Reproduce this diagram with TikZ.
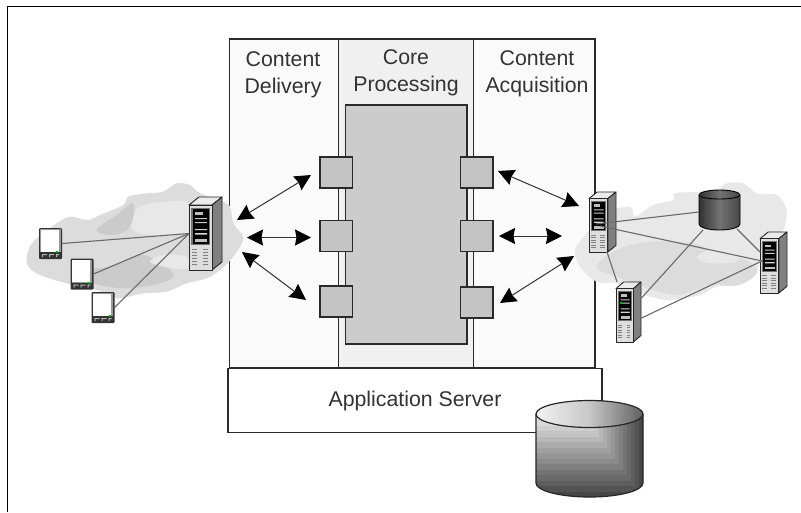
\documentclass[tikz,border=0pt]{standalone}
\usepackage{fontspec}
\setmainfont{Liberation Sans}
\usetikzlibrary{arrows.meta}
\definecolor{boxline}{HTML}{2A2A2A}
\definecolor{panelpale}{HTML}{FAFAFA}
\definecolor{panelcore}{HTML}{F0F0F0}
\definecolor{coregrey}{HTML}{CCCCCC}
\definecolor{portgrey}{HTML}{C4C4C4}
\definecolor{cloudA}{HTML}{DCDCDC}
\definecolor{cloudB}{HTML}{CBCBCB}
\definecolor{cloudC}{HTML}{E8E8E8}
\definecolor{wire}{HTML}{6A6A6A}
\tikzset{
  panelbox/.style={draw=boxline,line width=1.3pt,inner sep=0pt,outer sep=0pt,anchor=north west},
  portbox/.style={panelbox,fill=portgrey,minimum width=32.5pt,minimum height=31pt},
  devbox/.style={inner sep=0pt,outer sep=0pt,anchor=north west},
  caption/.style={font=\fontsize{21.3}{27}\selectfont,align=center,text=black!80,inner sep=0pt},
  dart/.style={draw=black!80,line width=1pt,{Stealth[length=16pt,width=16pt,inset=1.5pt,color=black]}-{Stealth[length=16pt,width=16pt,inset=1.5pt,color=black]}},
  link/.style={draw=wire,line width=1.1pt},
}
% #1 name, #2 left, #3 top, #4 width, #5 height
\newcommand{\devserver}[5]{%
  \node[devbox,minimum width=#4pt,minimum height=#5pt] (#1) at (#2,#3) {};
  \begin{scope}[shift={(#2,#3)},xscale=#4/33,yscale=#5/73]
    \filldraw[fill=black!8,draw=black!85,line width=.9pt,line join=round] (0,8)--(10,0)--(33,0)--(23,8)--cycle;
    \filldraw[fill=black!50,draw=black!85,line width=.9pt,line join=round] (23,8)--(33,0)--(33,65)--(23,73)--cycle;
    \filldraw[fill=black!13,draw=black!85,line width=1pt,line join=round] (0,8)--(23,8)--(23,73)--(0,73)--cycle;
    \fill[black!55] (2,10.5) rectangle (21,48);
    \fill[black] (3.5,12) rectangle (19.5,46.5);
    \fill[white!75!black] (6,15) rectangle (14,18);
    \fill[white!80!black] (6,21) rectangle (18,22.2) (6,25) rectangle (18,26.2);
    \fill[white!85!black] (6,32) rectangle (18,33.2) (6,36) rectangle (18,37.5);
    \fill[white!75!black] (6,41.5) rectangle (18,44.5);
    \foreach \yy in {52,55,58,61,64,67}{
      \fill[black!50] (3,\yy) rectangle (8,\yy+.9);
      \fill[black!50] (14,\yy) rectangle (19,\yy+.9);
    }
  \end{scope}
}
\newcommand{\devpda}[3]{%
  \node[devbox,minimum width=23pt,minimum height=31pt] (#1) at (#2,#3) {};
  \begin{scope}[shift={(#2,#3)}]
    \fill[black!80,rounded corners=1pt] (0,0) rectangle (23,31);
    \fill[black!40] (1.3,1.3) rectangle (21.7,24);
    \fill[white] (1.8,1.8) rectangle (19.5,23.5);
    \fill[green!70!black] (17,23.2) rectangle (19,25);
    \fill[black!30] (3,26) rectangle (8,27) (10,26) rectangle (15,27) (17,26) rectangle (20,27);
    \fill[black!30] (3,26) rectangle (4,29) (10,26) rectangle (11,29) (17,26) rectangle (18,29);
  \end{scope}
}
\begin{document}
\begin{tikzpicture}[x=1pt,y=-1pt]
\useasboundingbox (0,0) rectangle (801,512);
\fill[white] (0,0) rectangle (801,512);
\draw[black,line width=1.6pt] (7.5,512)--(7.5,6.5)--(801,6.5);

% panels
\node[panelbox,fill=panelpale,minimum width=109pt,minimum height=329pt] (delivery) at (229.5,39) {};
\node[panelbox,fill=panelcore,minimum width=135pt,minimum height=329pt] (core) at (338.5,39) {};
\node[panelbox,fill=panelpale,minimum width=121.5pt,minimum height=329pt] (acquire) at (473.5,39) {};
\node[panelbox,fill=coregrey,minimum width=121.5pt,minimum height=239pt] (engine) at (345.5,105) {};

% ports
\node[portbox] (l1) at (320,157) {};
\node[portbox] (l2) at (320,220.5) {};
\node[portbox] (l3) at (320,286) {};
\node[portbox] (r1) at (460.5,157) {};
\node[portbox] (r2) at (460.5,220.5) {};
\node[portbox] (r3) at (460.5,287) {};

% captions
\node[caption] (tdel) at (283,74.5) {Content\\Delivery};
\node[caption] (tcor) at (406,72.5) {Core\\Processing};
\node[caption] (tacq) at (537,73.5) {Content\\Acquisition};

% application server
\node[panelbox,fill=white,minimum width=374pt,minimum height=64pt] (appserver) at (228,368.5) {};
\node[caption] (tapp) at (415,401) {Application Server};

% big cylinder
\begin{scope}
  \path[clip] (536,414) -- (536,483) arc[start angle=180,end angle=0,x radius=53.5,y radius=14] -- (643,414) -- cycle;
  \fill[black!72] (530,400) rectangle (650,500);
  \foreach \i in {1,...,14}{
    \pgfmathsetmacro{\lev}{72-\i*4.4}
    \fill[black!\lev] (530,400) rectangle (643-\i*4,497-\i*5.5);
  }
\end{scope}
\draw[black!85,line width=1.2pt] (536,414) -- (536,483) arc[start angle=180,end angle=0,x radius=53.5,y radius=14] -- (643,414);
\shade[left color=black!5,right color=black!62,middle color=black!22,draw=black!85,line width=1.2pt] (589.5,414) ellipse[x radius=53.5,y radius=13.5];

% left cloud
\begin{scope}[shift={(0,160)},x=.3333pt,y=-.3333pt]
  \fill[cloudA] plot[smooth cycle,tension=.55] coordinates {(80,290) (95,250) (130,220) (170,190) (210,170) (265,180) (300,165) (370,135) (385,110) (440,100) (490,95) (530,70) (570,75) (600,100) (660,120) (690,140) (700,190) (730,235) (700,290) (660,330) (620,355) (560,370) (500,395) (430,400) (350,415) (290,390) (200,370) (120,345) (85,320)};
  \foreach \cx/\cy/\rx/\ry in {130/260/45/40,200/205/40/32,290/195/35/25,400/140/35/28,470/125/40/25,545/100/35/28,640/150/40/30,680/230/45/45,640/310/50/40,540/350/50/25,430/380/60/25,330/385/50/28,220/350/60/22}{
    \fill[cloudA] (\cx,\cy) ellipse[x radius=\rx*.3333,y radius=\ry*.3333];
  }
  \fill[cloudC] plot[smooth cycle,tension=.6] coordinates {(390,190) (420,140) (500,125) (570,130) (590,210) (520,225) (420,220)};
  \fill[cloudB] plot[smooth cycle,tension=.6] coordinates {(230,330) (330,320) (430,285) (520,340) (480,370) (380,385) (280,370)};
  \fill[cloudB] plot[smooth cycle,tension=.6] coordinates {(290,210) (350,165) (400,130) (390,200) (340,225)};
  \fill[cloudC] plot[smooth cycle,tension=.6] coordinates {(450,305) (490,285) (560,290) (560,325) (500,322)};
\end{scope}
% right cloud
\begin{scope}[shift={(560,170)},x=.3333pt,y=-.3333pt]
  \fill[cloudC] plot[smooth cycle,tension=.55] coordinates {(45,240) (80,190) (130,130) (210,110) (225,140) (280,105) (340,90) (345,70) (420,65) (470,60) (500,40) (550,40) (590,70) (650,75) (680,120) (670,180) (640,200) (600,260) (590,310) (540,345) (470,350) (420,375) (330,390) (270,380) (240,370) (170,340) (110,335) (60,290)};
  \foreach \cx/\cy/\rx/\ry in {90/260/45/40,180/160/50/35,260/135/40/30,370/100/35/30,525/75/40/35,620/105/45/35,640/170/35/30,560/320/45/30,420/350/60/28,300/360/50/28}{
    \fill[cloudC] (\cx,\cy) ellipse[x radius=\rx*.3333,y radius=\ry*.3333];
  }
  \fill[cloudA] plot[smooth cycle,tension=.6] coordinates {(110,290) (170,240) (270,215) (400,220) (470,250) (560,270) (590,310) (530,345) (450,345) (350,375) (250,350) (170,320)};
  \fill[cloudC] plot[smooth cycle,tension=.6] coordinates {(410,262) (450,240) (520,250) (530,275) (450,280)};
\end{scope}

% devices
\devserver{hub}{189}{197}{33}{73}
\devpda{p1}{39}{228}
\devpda{p2}{70.5}{258.5}
\devpda{p3}{91.5}{292}
\devserver{s1}{589}{192}{27}{60}
\devserver{s2}{616}{282}{25}{60}
\fill[green!70!black] (620,302) rectangle (621.8,304);
\devserver{s3}{760}{232}{27}{61}

% small dark cylinder
\node[devbox,minimum width=41pt,minimum height=40pt] (dbsmall) at (699,190) {};
\shade[left color=black!80,right color=black!72,middle color=black!55,draw=black,line width=.9pt]
  (699,195) -- (699,224) arc[start angle=180,end angle=0,x radius=20.5,y radius=6] -- (740,195) arc[start angle=0,end angle=-180,x radius=20.5,y radius=5] -- cycle;
\draw[black,line width=.9pt] (699,195) arc[start angle=180,end angle=0,x radius=20.5,y radius=4];

% links
\draw[link] (p1.east) -- (hub.west);
\draw[link] (p2.east) -- (hub.west);
\draw[link] (p3.east) -- (hub.west);
\coordinate (s1a) at (596,224);
\coordinate (s1b) at (600,226);
\coordinate (s1c) at (607,252);
\coordinate (c1a) at (699,212);
\coordinate (c1b) at (703,230);
\coordinate (c1c) at (737,229);
\coordinate (s2a) at (617,282);
\coordinate (s2b) at (641.5,298);
\coordinate (s2c) at (641.5,318);
\coordinate (s3a) at (760,252);
\coordinate (s3b) at (762,261);
\draw[link] (s1a) -- (c1a);
\draw[link] (s1b) -- (s3b);
\draw[link] (s1c) -- (s2a);
\draw[link] (c1b) -- (s2b);
\draw[link] (c1c) -- (s3a);
\draw[link] (s2c) -- (s3b);

% arrows
\coordinate (ea1) at (237,220); \coordinate (eb1) at (311,175);
\coordinate (ea2) at (247,237.5); \coordinate (eb2) at (311,237.5);
\coordinate (ea3) at (242,252); \coordinate (eb3) at (306,300);
\coordinate (fa1) at (498,171); \coordinate (fb1) at (579,206);
\coordinate (fa2) at (499,236); \coordinate (fb2) at (562,236);
\coordinate (fa3) at (500,303); \coordinate (fb3) at (574,256);
\draw[dart] (ea1) -- (eb1);
\draw[dart] (ea2) -- (eb2);
\draw[dart] (ea3) -- (eb3);
\draw[dart] (fa1) -- (fb1);
\draw[dart] (fa2) -- (fb2);
\draw[dart] (fa3) -- (fb3);
\end{tikzpicture}
\end{document}
